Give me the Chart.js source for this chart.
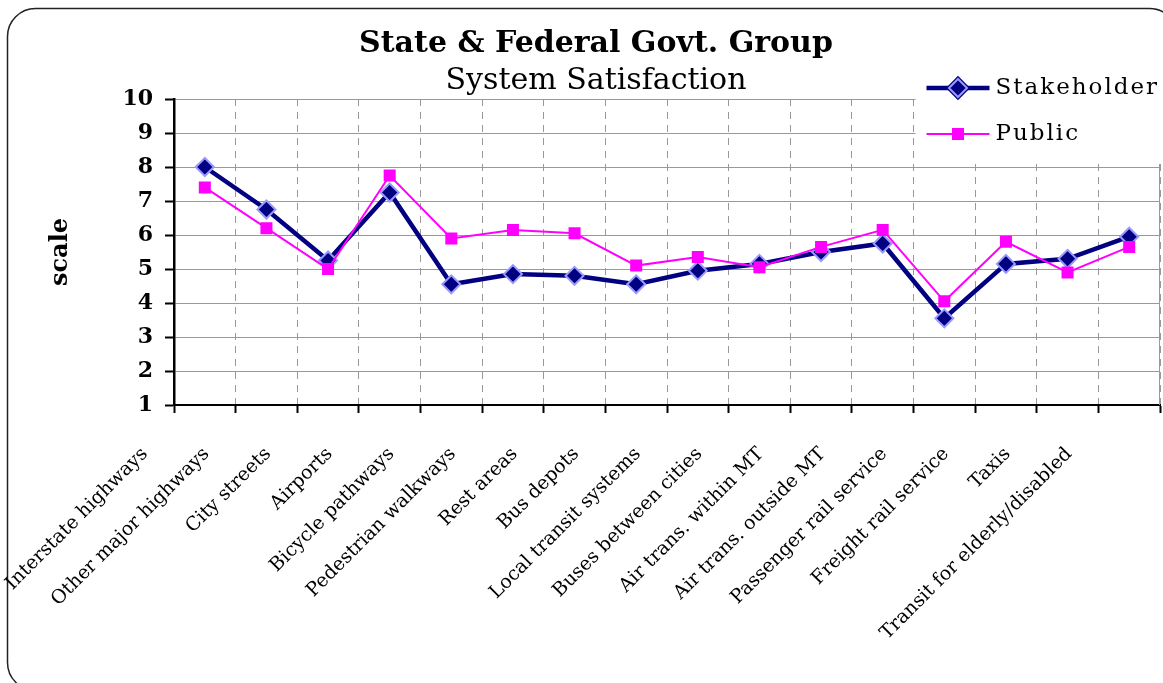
<!DOCTYPE html>
<html lang="en">
<head>
    <meta charset="UTF-8">
    <title>State & Federal Govt. Group - System Satisfaction</title>
    <style>
        body {
            margin: 0;
            padding: 0;
            background-color: #ffffff;
        }
        .chart-container {
            position: relative;
            width: 1163px;
            height: 683px;
        }
    </style>
    <script src="https://cdn.jsdelivr.net/npm/chart.js"></script>
</head>
<body>
    <div class="chart-container">
        <canvas id="satisfactionChart"></canvas>
    </div>
    <script>
        const categories = [
            "Interstate highways",
            "Other major highways",
            "City streets",
            "Airports",
            "Bicycle pathways",
            "Pedestrian walkways",
            "Rest areas",
            "Bus depots",
            "Local transit systems",
            "Buses between cities",
            "Air trans. within MT",
            "Air trans. outside MT",
            "Passenger rail service",
            "Freight rail service",
            "Taxis",
            "Transit for elderly/disabled"
        ];
        const stakeholder = [8.0, 6.75, 5.25, 7.25, 4.55, 4.85, 4.8, 4.55, 4.95, 5.15, 5.5, 5.75, 3.55, 5.15, 5.3, 5.95];
        const publicScores = [7.4, 6.2, 5.0, 7.75, 5.9, 6.15, 6.05, 5.1, 5.35, 5.05, 5.65, 6.15, 4.05, 5.8, 4.9, 5.65];
        const yTicks = [1, 2, 3, 4, 5, 6, 7, 8, 9, 10];

        const SERIF = "'DejaVu Serif', serif";
        const NAVY = "#000080";
        const MAGENTA = "#ff00ff";

        // frame, titles and the legend box are drawn by hand
        const decorations = {
            id: "decorations",
            beforeDraw(chart) {
                const ctx = chart.ctx;
                ctx.save();
                ctx.strokeStyle = "#222";
                ctx.lineWidth = 1.5;
                ctx.beginPath();
                ctx.roundRect(7.5, 8.5, 1170, 682, 28);
                ctx.stroke();

                ctx.fillStyle = "#000";
                ctx.textAlign = "center";
                ctx.textBaseline = "alphabetic";
                ctx.font = "bold 30px " + SERIF;
                ctx.fillText("State & Federal Govt. Group", 596, 52);
                ctx.font = "30px " + SERIF;
                ctx.fillText("System Satisfaction", 596, 89);
                ctx.restore();
            },
            afterDraw(chart) {
                const ctx = chart.ctx;
                const area = chart.chartArea;
                const half = chart.scales.x.width / categories.length / 2;
                const left = chart.scales.x.getPixelForTick(11) + half + 2;
                ctx.save();
                ctx.fillStyle = "#fff";
                ctx.fillRect(left, area.top - 40, chart.width - left, 105);

                const items = [
                    { label: "Stakeholder", ds: chart.data.datasets[0], y: 88 },
                    { label: "Public", ds: chart.data.datasets[1], y: 134 }
                ];
                items.forEach(item => {
                    const x0 = left + 11, x1 = left + 74;
                    ctx.strokeStyle = item.ds.borderColor;
                    ctx.lineWidth = item.ds.borderWidth;
                    ctx.beginPath();
                    ctx.moveTo(x0, item.y);
                    ctx.lineTo(x1, item.y);
                    ctx.stroke();
                    Chart.helpers.drawPoint(ctx, {
                        pointStyle: item.ds.pointStyle,
                        radius: item.ds.pointRadius,
                        borderWidth: item.ds.pointBorderWidth,
                        rotation: 0
                    }, (x0 + x1) / 2, item.y);
                    ctx.fillStyle = item.ds.pointBackgroundColor;
                    ctx.strokeStyle = item.ds.pointBorderColor;
                    ctx.lineWidth = item.ds.pointBorderWidth;
                    ctx.fill();
                    if (item.ds.pointBorderWidth) ctx.stroke();
                    ctx.fillStyle = "#000";
                    ctx.font = "23px " + SERIF;
                    ctx.letterSpacing = "2px";
                    ctx.textAlign = "left";
                    ctx.textBaseline = "middle";
                    ctx.fillText(item.label, x1 + 6, item.y);
                    ctx.letterSpacing = "0px";
                });

                // right edge of the plot area below the legend
                ctx.strokeStyle = "#999";
                ctx.lineWidth = 1;
                ctx.beginPath();
                ctx.moveTo(area.right - 0.5, area.top + 65);
                ctx.lineTo(area.right - 0.5, area.bottom);
                ctx.stroke();
                ctx.restore();
            }
        };

        const ctx = document.getElementById("satisfactionChart").getContext("2d");
        const satisfactionChart = new Chart(ctx, {
            type: "line",
            data: {
                labels: categories,
                datasets: [
                    {
                        label: "Stakeholder",
                        data: stakeholder,
                        borderColor: NAVY,
                        borderWidth: 4.5,
                        pointStyle: "rectRot",
                        pointRadius: 9,
                        pointBackgroundColor: NAVY,
                        pointBorderColor: "#9999ff",
                        pointBorderWidth: 2,
                        tension: 0,
                        order: 2
                    },
                    {
                        label: "Public",
                        data: publicScores,
                        borderColor: MAGENTA,
                        borderWidth: 2,
                        pointStyle: "rect",
                        pointRadius: 8.5,
                        pointBackgroundColor: MAGENTA,
                        pointBorderColor: MAGENTA,
                        pointBorderWidth: 0,
                        tension: 0,
                        order: 1
                    }
                ]
            },
            options: {
                responsive: true,
                maintainAspectRatio: false,
                animation: false,
                layout: {
                    autoPadding: false,
                    padding: { left: 0, top: 99, right: 3, bottom: 0 }
                },
                plugins: {
                    legend: { display: false },
                    tooltip: { enabled: false }
                },
                scales: {
                    x: {
                        offset: true,
                        afterFit(scale) {
                            scale.height = 278;
                            scale.paddingLeft = 0;
                            scale.paddingRight = 0;
                        },
                        grid: {
                            offset: true,
                            color: "#999",
                            lineWidth: 1,
                            tickColor: "#000",
                            tickWidth: 2,
                            tickLength: 8,
                            tickBorderDash: []
                        },
                        border: { display: true, color: "#000", width: 2, dash: [7, 6] },
                        ticks: {
                            autoSkip: false,
                            maxRotation: 45,
                            minRotation: 45,
                            labelOffset: -60,
                            padding: 30,
                            color: "#000",
                            font: { family: SERIF, size: 19 }
                        }
                    },
                    y: {
                        min: 1,
                        max: 10,
                        afterFit(scale) { scale.width = 174; },
                        afterBuildTicks(scale) {
                            scale.ticks = yTicks.map(v => ({ value: v }));
                        },
                        grid: {
                            color: "#999",
                            lineWidth: 1,
                            tickColor: "#000",
                            tickWidth: 2,
                            tickLength: 9
                        },
                        border: { display: true, color: "#000", width: 2.5 },
                        ticks: {
                            padding: 12,
                            color: "#000",
                            font: { family: SERIF, size: 22, weight: "bold" }
                        },
                        title: {
                            display: true,
                            text: "scale",
                            color: "#000",
                            padding: { top: 46, bottom: 0 },
                            font: { family: SERIF, size: 24, weight: "bold" }
                        }
                    }
                }
            },
            plugins: [decorations]
        });
    </script>
</body>
</html>
